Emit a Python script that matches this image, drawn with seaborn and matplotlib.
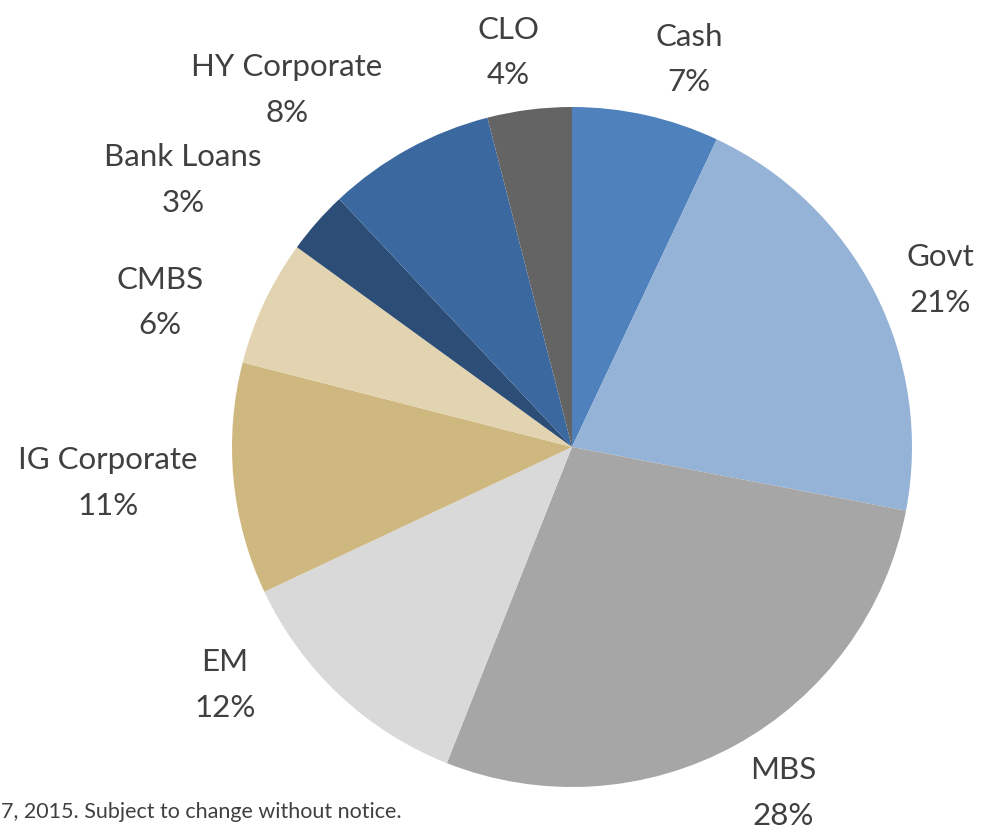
import matplotlib
matplotlib.use('Agg')
import matplotlib.pyplot as plt
import seaborn as sns

# ====== DATA

sectors = ['Cash', 'Govt', 'MBS', 'EM', 'IG Corporate', 'CMBS', 'Bank Loans', 'HY Corporate', 'CLO']
weights = [7, 21, 28, 12, 11, 6, 3, 8, 4]

colors = ['#4F81BD', '#95B3D7', '#A6A6A6', '#D9D9D9', '#CFB87F', '#E2D4B0', '#2C4D75', '#3C68A0', '#646464']

# label centres in units of the pie radius (layout only)
label_pos = [(0.344, 1.140), (1.082, 0.491), (0.621, -1.018), (-1.021, -0.700), (-1.365, -0.106),
             (-1.212, 0.424), (-1.144, 0.785), (-0.838, 1.050), (-0.188, 1.160)]

footnote = '7, 2015. Subject to change without notice.'

# ====== PLOT

sns.set_style('white')
plt.rcParams['font.family'] = ['Lato', 'DejaVu Sans']

fig = plt.figure(figsize=(9.81, 8.32), dpi=100)
ax = fig.add_axes([0, 0, 1, 1])

ax.pie(weights, colors=colors, startangle=90, counterclock=False, radius=1,
       wedgeprops={'linewidth': 0})

for name, w, (x, y) in zip(sectors, weights, label_pos):
    ax.text(x, y, f'{name}\n{w}%', ha='center', va='center', multialignment='center',
            fontsize=22.5, color='#404040', linespacing=1.75)

# 340 px per unit, centre at (572, 447) px
ax.set_xlim(-572 / 340, (981 - 572) / 340)
ax.set_ylim(-(832 - 447) / 340, 447 / 340)
ax.set_aspect('equal', adjustable='box')
ax.axis('off')

fig.text(0.001, 0.024, footnote, fontsize=15.5, color='#404040', ha='left', va='center')

fig.savefig('out.png', dpi=100)
plt.close()
